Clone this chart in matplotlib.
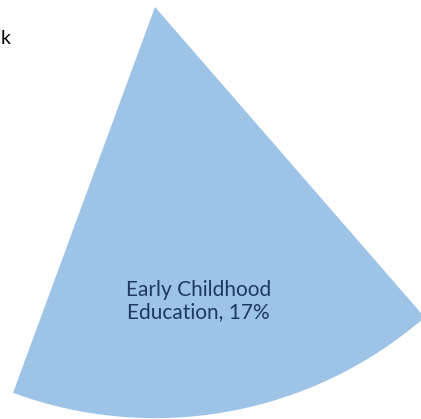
import matplotlib.pyplot as plt

# ====== data ======
categories = ["Early Childhood Education", "Other"]
shares = [17, 83]
colors = ["#9DC3E6", "none"]
cut_text = "k"   # end of a word cut off at the left edge

plt.rcParams["font.family"] = ["Lato", "DejaVu Sans"]

fig = plt.figure(figsize=(4.21, 4.19), dpi=100)
ax = fig.add_axes([0, 0, 1, 1])

wedges, _ = ax.pie(shares, colors=colors, startangle=-110.2,
                   counterclock=True, radius=1.0)
wedges[1].set_visible(False)

# only the first slice is in view
ax.set_xlim(-0.377, 0.647)
ax.set_ylim(-1.002, 0.017)
ax.set_aspect("equal")
ax.axis("off")

ax.text(0.105, -0.716, f"{categories[0].replace(' Education', '')}\nEducation, {shares[0]}%",
        ha="center", va="center", fontsize=15, color="#1F3A60", linespacing=1.15)

fig.text(0.5 / 421, 1 - 39 / 419, cut_text, ha="left", va="center",
         fontsize=14, color="black")

fig.savefig("out.png", dpi=100)
